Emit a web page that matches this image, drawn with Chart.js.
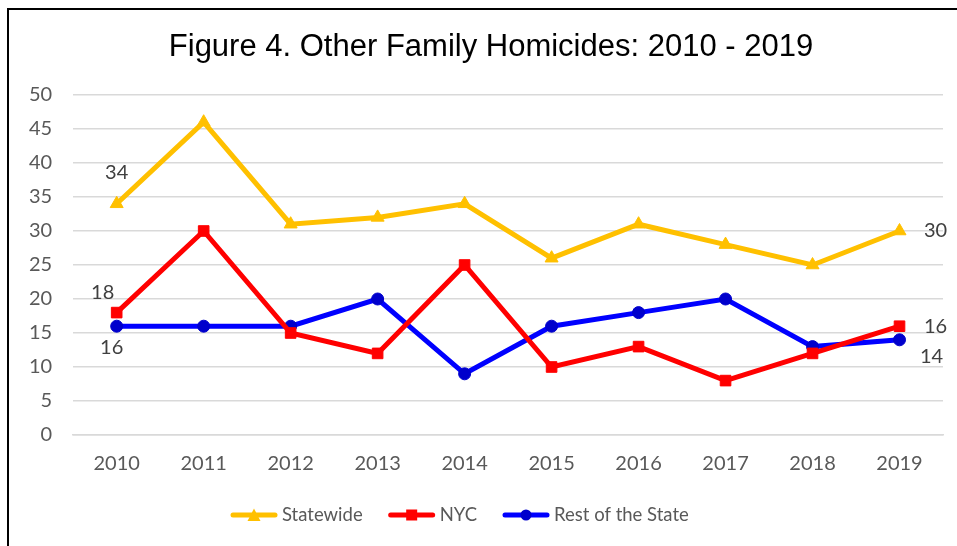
<!DOCTYPE html>
<html><head><meta charset="utf-8">
<script src="https://cdn.jsdelivr.net/npm/chart.js@4/dist/chart.umd.min.js"></script>
<style>
html,body{margin:0;padding:0;background:#fff;overflow:hidden;}
#wrap{position:absolute;left:7px;top:8px;width:1000px;height:600px;border-left:2px solid #000;border-top:2px solid #000;}
</style></head><body>
<div id="wrap"></div>
<canvas id="c" width="957" height="546" style="position:absolute;left:0;top:0;width:957px;height:546px"></canvas>
<script>
const categories = ["2010","2011","2012","2013","2014","2015","2016","2017","2018","2019"];
const statewide = [34, 46, 31, 32, 34, 26, 31, 28, 25, 30];
const nyc = [18, 30, 15, 12, 25, 10, 13, 8, 12, 16];
const restOfState = [16, 16, 16, 20, 9, 16, 18, 20, 13, 14];
const seriesNames = ["Statewide", "NYC", "Rest of the State"];
const yTicks = [0,5,10,15,20,25,30,35,40,45,50];
const titleText = "Figure 4. Other Family Homicides: 2010 - 2019";

const colors = ["#FFC000", "#FF0000", "#0000FF"];
const pointColors = ["#FFC000", "#FF0000", "#0000CC"];
const styles = ["triangle", "rect", "circle"];
const FONT = 'Lato, "Open Sans", sans-serif';

function drawIcon(g, i, x, y){
  // x = left of 48px icon, y = center
  g.save();
  g.strokeStyle = colors[i]; g.lineWidth = 5; g.lineCap = 'round';
  g.beginPath(); g.moveTo(x+3,y); g.lineTo(x+45,y); g.stroke();
  g.fillStyle = pointColors[i];
  g.beginPath();
  if (styles[i]==='triangle'){ g.moveTo(x+24,y-6.5); g.lineTo(x+30.5,y+6); g.lineTo(x+17.5,y+6); g.closePath(); }
  else if (styles[i]==='rect'){ g.rect(x+18.5,y-5.5,11,11); }
  else { g.arc(x+24,y,5.5,0,Math.PI*2); }
  g.fill();
  g.restore();
}

// data labels: [datasetIndex, pointIndex, dx, dy]
const labelSpots = [[0,0,0,-31],[0,9,36,0],[1,0,-14,-20],[1,9,36,0],[2,0,-5,21],[2,9,32,17]];
const decorPlugin = {
  id:'decor',
  afterDatasetsDraw(chart){
    const ctx = chart.ctx;
    ctx.save();
    ctx.font = '20px ' + FONT;
    ctx.fillStyle = '#404040';
    ctx.textAlign = 'center'; ctx.textBaseline = 'middle';
    labelSpots.forEach(([d,i,dx,dy])=>{
      const el = chart.getDatasetMeta(d).data[i];
      const v = chart.data.datasets[d].data[i];
      ctx.fillText(String(v), el.x+dx, el.y+dy);
    });
    // title
    ctx.font = '31px "Liberation Sans", Arial, sans-serif';
    ctx.fillStyle = '#000';
    ctx.fillText(titleText, 491, 47);
    // legend
    ctx.font = '18.5px ' + FONT;
    ctx.textAlign = 'left';
    ctx.fillStyle = '#595959';
    let x = 230; const y = 515;
    seriesNames.forEach((name,i)=>{
      drawIcon(ctx, i, x, y);
      x += 52;
      ctx.fillText(name, x, y);
      x += ctx.measureText(name).width + 25;
    });
    ctx.restore();
  }
};

const seriesData = [statewide, nyc, restOfState];
new Chart(document.getElementById('c'), {
  type:'line',
  data:{
    labels: categories,
    datasets: seriesData.map((d,i)=>({
      label: seriesNames[i], data: d,
      borderColor: colors[i], backgroundColor: pointColors[i],
      pointBackgroundColor: pointColors[i], pointBorderColor: pointColors[i],
      borderWidth: 5, pointStyle: styles[i],
      pointRadius: styles[i]==='rect' ? 7.5 : (styles[i]==='triangle'?7.5:6),
      pointBorderWidth: 1, tension: 0, fill:false
    }))
  },
  options:{
    responsive:false, animation:false,
    devicePixelRatio:1,
    layout:{padding:{left:8,right:14,top:95,bottom:53}},
    plugins:{
      title:{display:false},
      legend:{display:false},
      tooltip:{enabled:false}
    },
    scales:{
      x:{offset:true, grid:{display:false, drawTicks:false}, border:{display:true,color:'#d9d9d9',width:1.5},
        ticks:{color:'#595959', padding:17, font:{family:FONT, size:20}}},
      y:{min:0,max:50, afterBuildTicks(ax){ax.ticks = yTicks.map(v=>({value:v}));},
        grid:{color:'#d9d9d9', lineWidth:1.5, drawTicks:false}, border:{display:false},
        ticks:{color:'#595959', padding:21, font:{family:FONT, size:20}}}
    }
  },
  plugins:[decorPlugin]
});
</script>
</body></html>
